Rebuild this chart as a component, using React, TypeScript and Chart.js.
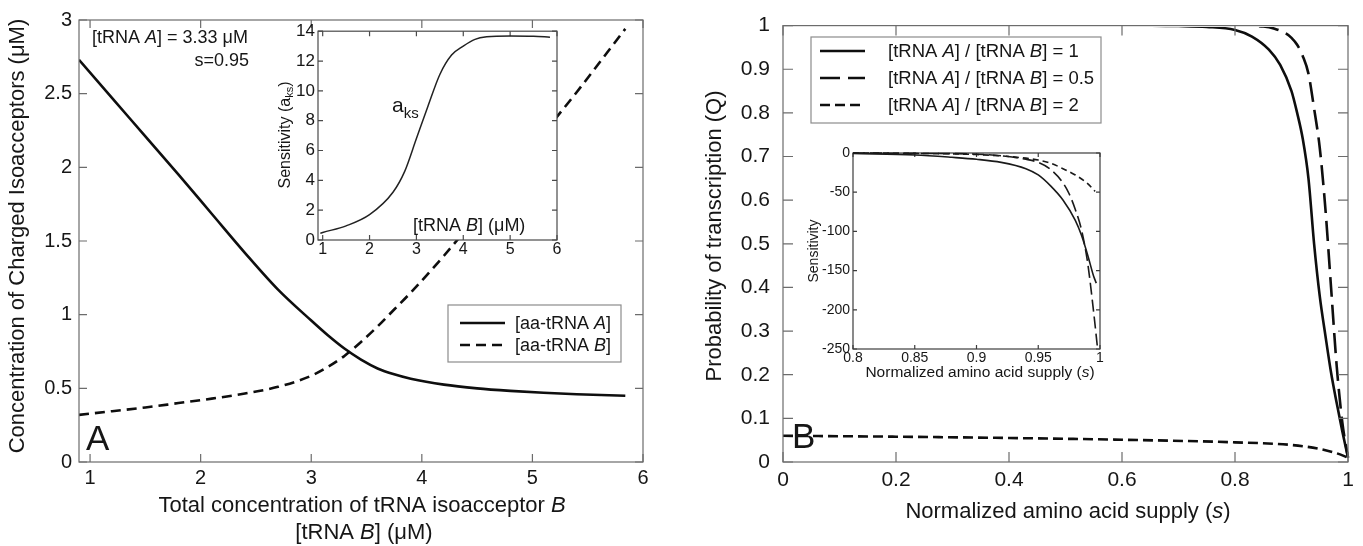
import React, { useEffect, useRef } from "react";
import { Chart, registerables } from "chart.js";

Chart.register(...registerables);

const FAM = '"Liberation Sans", Arial, Helvetica, sans-serif';
const INK = "#161616";
const LINE = "#0e0e0e";

// ---------------- Panel A (main) ----------------
const aTotalB = [0.9, 1.2, 1.5, 1.8, 2.1, 2.4, 2.7, 3.0, 3.15, 3.3, 3.45, 3.6, 3.75, 3.9, 4.2, 4.5, 4.8, 5.1, 5.4, 5.84];
const aChargedA = [2.73, 2.47, 2.21, 1.95, 1.685, 1.42, 1.17, 0.96, 0.86, 0.77, 0.695, 0.635, 0.595, 0.565, 0.525, 0.5, 0.483, 0.47, 0.46, 0.45];
const aChargedB = [0.32, 0.345, 0.37, 0.4, 0.43, 0.465, 0.51, 0.585, 0.645, 0.72, 0.815, 0.92, 1.035, 1.15, 1.4, 1.67, 1.95, 2.23, 2.51, 2.94];
const aXTicks = [1, 2, 3, 4, 5, 6];
const aXTickLabels = ["1", "2", "3", "4", "5", "6"];
const aYTicks = [0, 0.5, 1, 1.5, 2, 2.5, 3];
const aYTickLabels = ["0", "0.5", "1", "1.5", "2", "2.5", "3"];

// ---------------- Panel A (inset) ----------------
const aInsetTotalB = [0.95, 1.0, 1.5, 2.0, 2.5, 2.75, 3.0, 3.25, 3.5, 3.75, 4.0, 4.25, 4.5, 5.0, 5.5, 5.85];
const aInsetSensitivity = [0.45, 0.5, 0.95, 1.7, 3.2, 4.6, 6.8, 9.0, 11.1, 12.4, 13.0, 13.45, 13.62, 13.68, 13.66, 13.6];
const aInsetXTicks = [1, 2, 3, 4, 5, 6];
const aInsetXTickLabels = ["1", "2", "3", "4", "5", "6"];
const aInsetYTicks = [0, 2, 4, 6, 8, 10, 12, 14];
const aInsetYTickLabels = ["0", "2", "4", "6", "8", "10", "12", "14"];

// ---------------- Panel B (main) ----------------
const bSupplyRatio1 = [0, 0.3, 0.6, 0.7, 0.75, 0.8, 0.83, 0.86, 0.88, 0.9, 0.91, 0.92, 0.93, 0.94, 0.95, 0.96, 0.97, 0.98, 0.99, 1.0];
const bQRatio1 = [1, 1, 1, 0.999, 0.997, 0.99, 0.975, 0.945, 0.91, 0.85, 0.8, 0.74, 0.65, 0.5, 0.38, 0.29, 0.205, 0.135, 0.07, 0.01];
const bSupplyRatioHalf = [0, 0.3, 0.6, 0.8, 0.85, 0.87, 0.89, 0.9, 0.91, 0.92, 0.93, 0.94, 0.95, 0.96, 0.97, 0.98, 0.99, 1.0];
const bQRatioHalf = [1, 1, 1, 1, 0.998, 0.993, 0.982, 0.972, 0.956, 0.93, 0.89, 0.81, 0.72, 0.58, 0.4, 0.22, 0.09, 0.01];
const bSupplyRatio2 = [0, 0.2, 0.4, 0.6, 0.8, 0.9, 0.95, 0.98, 1.0];
const bQRatio2 = [0.06, 0.058, 0.055, 0.051, 0.045, 0.039, 0.03, 0.02, 0.01];
const bXTicks = [0, 0.2, 0.4, 0.6, 0.8, 1];
const bXTickLabels = ["0", "0.2", "0.4", "0.6", "0.8", "1"];
const bYTicks = [0, 0.1, 0.2, 0.3, 0.4, 0.5, 0.6, 0.7, 0.8, 0.9, 1];
const bYTickLabels = ["0", "0.1", "0.2", "0.3", "0.4", "0.5", "0.6", "0.7", "0.8", "0.9", "1"];

// ---------------- Panel B (inset) ----------------
const bInsetSupply1 = [0.8, 0.85, 0.88, 0.9, 0.92, 0.94, 0.95, 0.96, 0.97, 0.98, 0.985, 0.99, 0.995, 0.997];
const bInsetSens1 = [-0.5, -2.5, -5.5, -8, -12, -20, -28, -42, -60, -86, -105, -130, -158, -166];
const bInsetSupplyHalf = [0.8, 0.85, 0.9, 0.92, 0.94, 0.95, 0.96, 0.97, 0.975, 0.98, 0.985, 0.99, 0.995, 0.998];
const bInsetSensHalf = [0, -0.5, -1.5, -3.5, -8, -12, -21, -38, -52, -72, -98, -140, -205, -249];
const bInsetSupply2 = [0.8, 0.85, 0.9, 0.93, 0.95, 0.96, 0.97, 0.98, 0.99, 0.996];
const bInsetSens2 = [0, -0.5, -2, -5, -9, -13, -20, -28, -39, -49];
const bInsetXTicks = [0.8, 0.85, 0.9, 0.95, 1];
const bInsetXTickLabels = ["0.8", "0.85", "0.9", "0.95", "1"];
const bInsetYTicks = [-250, -200, -150, -100, -50, 0];
const bInsetYTickLabels = ["-250", "-200", "-150", "-100", "-50", "0"];

// ---------------- styles ----------------
const DASH_A_B = [10, 6];
const DASH_B_HALF = [20, 8];
const DASH_B_TWO = [10, 5];
const DASH_IN_HALF = [12, 5];
const DASH_IN_TWO = [6, 4];

type Seg = { t: string; i?: boolean; s?: number; dy?: number };

function rich(ctx: CanvasRenderingContext2D, segs: Seg[], x: number, y: number, size: number, align: "left" | "center" | "right" = "left") {
  ctx.save();
  ctx.textBaseline = "alphabetic";
  ctx.textAlign = "left";
  ctx.fillStyle = INK;
  const fontOf = (g: Seg) => `${g.i ? "italic " : ""}${g.s ?? size}px ${FAM}`;
  let w = 0;
  for (const g of segs) {
    ctx.font = fontOf(g);
    w += ctx.measureText(g.t).width;
  }
  let cx = align === "left" ? x : align === "center" ? x - w / 2 : x - w;
  for (const g of segs) {
    ctx.font = fontOf(g);
    ctx.fillText(g.t, cx, y + (g.dy ?? 0));
    cx += ctx.measureText(g.t).width;
  }
  ctx.restore();
}

function richV(ctx: CanvasRenderingContext2D, segs: Seg[], cx: number, cy: number, size: number) {
  ctx.save();
  ctx.translate(cx, cy);
  ctx.rotate(-Math.PI / 2);
  rich(ctx, segs, 0, size * 0.35, size, "center");
  ctx.restore();
}

type Row = { y: number; dash: number[]; width: number; segs: Seg[] };
function drawLegend(ctx: CanvasRenderingContext2D, box: { x: number; y: number; w: number; h: number }, rows: Row[], x0: number, x1: number, tx: number, size: number) {
  ctx.save();
  ctx.fillStyle = "#fff";
  ctx.fillRect(box.x, box.y, box.w, box.h);
  ctx.strokeStyle = "#8c8c8c";
  ctx.lineWidth = 1.2;
  ctx.strokeRect(box.x, box.y, box.w, box.h);
  for (const r of rows) {
    ctx.strokeStyle = LINE;
    ctx.lineWidth = r.width;
    ctx.setLineDash(r.dash);
    ctx.beginPath();
    ctx.moveTo(x0, r.y);
    ctx.lineTo(x1, r.y);
    ctx.stroke();
    ctx.setLineDash([]);
    rich(ctx, r.segs, tx, r.y + size * 0.35, size, "left");
  }
  ctx.restore();
}

function xy(xs: number[], ys: number[]) {
  return xs.map((x, i) => ({ x, y: ys[i] }));
}

function axis(min: number, max: number, ticks: number[], labels: string[], size: number, pad: number, fit: { width?: number; height?: number }) {
  return {
    type: "linear",
    min,
    max,
    afterBuildTicks: (s: any) => {
      s.ticks = ticks.map((v) => ({ value: v }));
    },
    afterFit: (s: any) => {
      if (fit.width != null) s.width = fit.width;
      if (fit.height != null) s.height = fit.height;
    },
    grid: { display: false, drawTicks: false },
    border: { display: false },
    ticks: {
      autoSkip: false,
      maxRotation: 0,
      minRotation: 0,
      padding: pad,
      color: INK,
      font: { family: FAM, size },
      callback: (_v: any, i: number) => labels[i],
    },
  };
}

function drawFrame(chart: any, len: number, color: string) {
  const { ctx, chartArea: a } = chart;
  const xs = chart.scales.x;
  const ys = chart.scales.y;
  ctx.save();
  ctx.setLineDash([]);
  ctx.strokeStyle = color;
  ctx.lineWidth = 1.2;
  ctx.strokeRect(a.left, a.top, a.right - a.left, a.bottom - a.top);
  ctx.beginPath();
  for (const t of xs.ticks) {
    const p = xs.getPixelForValue(t.value);
    ctx.moveTo(p, a.bottom);
    ctx.lineTo(p, a.bottom - len);
    ctx.moveTo(p, a.top);
    ctx.lineTo(p, a.top + len);
  }
  for (const t of ys.ticks) {
    const p = ys.getPixelForValue(t.value);
    ctx.moveTo(a.left, p);
    ctx.lineTo(a.left + len, p);
    ctx.moveTo(a.right, p);
    ctx.lineTo(a.right - len, p);
  }
  ctx.stroke();
  ctx.restore();
}

type AxSpec = { min: number; max: number; ticks: number[]; labels: string[]; size: number; pad: number };
type Spec = {
  canvas: HTMLCanvasElement;
  ox: number;
  oy: number;
  w: number;
  h: number;
  area: { l: number; t: number; r: number; b: number };
  x: AxSpec;
  y: AxSpec;
  datasets: any[];
  tick: number;
  frameColor: string;
  white: boolean;
  frameOnTop: boolean;
  decor: (ctx: CanvasRenderingContext2D) => void;
};

function makeChart(s: Spec) {
  const yWidth = s.area.l - s.ox;
  const xHeight = s.oy + s.h - s.area.b;
  const padTop = s.area.t - s.oy;
  const padRight = s.ox + s.w - s.area.r;
  const cfg: any = {
    type: "line",
    data: { datasets: s.datasets },
    options: {
      responsive: false,
      animation: false,
      devicePixelRatio: 1,
      events: [],
      layout: { padding: { top: padTop, right: padRight, left: 0, bottom: 0 } },
      plugins: { legend: { display: false }, tooltip: { enabled: false } },
      scales: {
        x: axis(s.x.min, s.x.max, s.x.ticks, s.x.labels, s.x.size, s.x.pad, { height: xHeight }),
        y: axis(s.y.min, s.y.max, s.y.ticks, s.y.labels, s.y.size, s.y.pad, { width: yWidth }),
      },
    },
    plugins: [
      {
        id: "decor",
        beforeDraw(chart: any) {
          if (s.white) {
            const a = chart.chartArea;
            chart.ctx.save();
            chart.ctx.fillStyle = "#fff";
            chart.ctx.fillRect(a.left, a.top, a.right - a.left, a.bottom - a.top);
            chart.ctx.restore();
          }
        },
        beforeDatasetsDraw(chart: any) {
          if (!s.frameOnTop) drawFrame(chart, s.tick, s.frameColor);
        },
        afterDatasetsDraw(chart: any) {
          if (s.frameOnTop) drawFrame(chart, s.tick, s.frameColor);
        },
        afterDraw(chart: any) {
          const ctx = chart.ctx as CanvasRenderingContext2D;
          ctx.save();
          ctx.translate(-s.ox, -s.oy);
          s.decor(ctx);
          ctx.restore();
        },
      },
    ],
  };
  return new Chart(s.canvas, cfg);
}

function line(label: string, xs: number[], ys: number[], width: number, dash: number[], clip: any, color = LINE) {
  return {
    label,
    data: xy(xs, ys),
    borderColor: color,
    borderWidth: width,
    borderDash: dash,
    pointRadius: 0,
    fill: false,
    cubicInterpolationMode: "monotone",
    clip,
  };
}

const A_POS = { ox: 0, oy: 0, w: 690, h: 546 };
const AI_POS = { ox: 255, oy: 18, w: 325, h: 252 };
const B_POS = { ox: 690, oy: 0, w: 673, h: 546 };
const BI_POS = { ox: 798, oy: 138, w: 322, h: 247 };
const TOP_HIDE = { left: 0, top: -1.4, right: 2, bottom: 0 };

export default function App() {
  const refA = useRef<HTMLCanvasElement>(null);
  const refAI = useRef<HTMLCanvasElement>(null);
  const refB = useRef<HTMLCanvasElement>(null);
  const refBI = useRef<HTMLCanvasElement>(null);

  useEffect(() => {
    const charts: Chart[] = [];
    charts.push(
      makeChart({
        canvas: refA.current!,
        ...A_POS,
        area: { l: 79, t: 20, r: 643, b: 462 },
        x: { min: 0.9, max: 6, ticks: aXTicks, labels: aXTickLabels, size: 20, pad: 4 },
        y: { min: 0, max: 3, ticks: aYTicks, labels: aYTickLabels, size: 20, pad: 7 },
        datasets: [line("[aa-tRNA A]", aTotalB, aChargedA, 2.6, [], 0), line("[aa-tRNA B]", aTotalB, aChargedB, 2.6, DASH_A_B, 0)],
        tick: 8,
        frameColor: "#6c6c6c",
        white: false,
        frameOnTop: true,
        decor: (ctx) => {
          richV(ctx, [{ t: "Concentration of Charged Isoacceptors (μM)" }], 16, 236, 22);
          rich(ctx, [{ t: "Total concentration of tRNA isoacceptor " }, { t: "B", i: true }], 362, 512, 22, "center");
          rich(ctx, [{ t: "[tRNA " }, { t: "B", i: true }, { t: "] (μM)" }], 364, 539, 22, "center");
          rich(ctx, [{ t: "[tRNA " }, { t: "A", i: true }, { t: "] = 3.33 μM" }], 92, 43, 18, "left");
          rich(ctx, [{ t: "s=0.95" }], 249, 66, 18, "right");
          rich(ctx, [{ t: "A" }], 86, 450, 35, "left");
          drawLegend(
            ctx,
            { x: 448, y: 305, w: 173, h: 57 },
            [
              { y: 323, dash: [], width: 2.6, segs: [{ t: "[aa-tRNA " }, { t: "A", i: true }, { t: "]" }] },
              { y: 345, dash: DASH_A_B, width: 2.6, segs: [{ t: "[aa-tRNA " }, { t: "B", i: true }, { t: "]" }] },
            ],
            460,
            505,
            515,
            18
          );
        },
      })
    );
    charts.push(
      makeChart({
        canvas: refAI.current!,
        ...AI_POS,
        area: { l: 318, t: 29, r: 557, b: 240 },
        x: { min: 0.9, max: 6, ticks: aInsetXTicks, labels: aInsetXTickLabels, size: 16, pad: 0 },
        y: { min: 0, max: 14, ticks: aInsetYTicks, labels: aInsetYTickLabels, size: 17, pad: 3 },
        datasets: [line("a_ks", aInsetTotalB, aInsetSensitivity, 1.5, [], 2, "#222")],
        tick: 5,
        frameColor: "#4a4a4a",
        white: true,
        frameOnTop: false,
        decor: (ctx) => {
          richV(ctx, [{ t: "Sensitivity (a" }, { t: "ks", s: 11, dy: 3 }, { t: ")" }], 284, 135, 16);
          rich(ctx, [{ t: "a", s: 21 }, { t: "ks", s: 15, dy: 6 }], 392, 112, 21, "left");
          rich(ctx, [{ t: "[tRNA " }, { t: "B", i: true }, { t: "] (μM)" }], 413, 231, 18, "left");
        },
      })
    );
    charts.push(
      makeChart({
        canvas: refB.current!,
        ...B_POS,
        area: { l: 783, t: 20, r: 1348, b: 462 },
        x: { min: 0, max: 1, ticks: bXTicks, labels: bXTickLabels, size: 21, pad: 6 },
        y: { min: 0, max: 1, ticks: bYTicks, labels: bYTickLabels, size: 21, pad: 13 },
        datasets: [
          line("[tRNA A] / [tRNA B] = 1", bSupplyRatio1, bQRatio1, 2.6, [], TOP_HIDE),
          line("[tRNA A] / [tRNA B] = 0.5", bSupplyRatioHalf, bQRatioHalf, 2.6, DASH_B_HALF, TOP_HIDE),
          line("[tRNA A] / [tRNA B] = 2", bSupplyRatio2, bQRatio2, 2.6, DASH_B_TWO, 0),
        ],
        tick: 10,
        frameColor: "#6c6c6c",
        white: false,
        frameOnTop: true,
        decor: (ctx) => {
          richV(ctx, [{ t: "Probability of transcription (Q)" }], 713, 236, 22);
          rich(ctx, [{ t: "Normalized amino acid supply (" }, { t: "s", i: true }, { t: ")" }], 1068, 518, 22, "center");
          rich(ctx, [{ t: "B" }], 792, 448, 35, "left");
          const ratio = (v: string): Seg[] => [{ t: "[tRNA " }, { t: "A", i: true }, { t: "] / [tRNA " }, { t: "B", i: true }, { t: "] = " + v }];
          drawLegend(
            ctx,
            { x: 811, y: 37, w: 290, h: 86 },
            [
              { y: 51, dash: [], width: 2.6, segs: ratio("1") },
              { y: 78, dash: DASH_B_HALF, width: 2.6, segs: ratio("0.5") },
              { y: 105, dash: DASH_B_TWO, width: 2.6, segs: ratio("2") },
            ],
            820,
            865,
            888,
            18.5
          );
        },
      })
    );
    charts.push(
      makeChart({
        canvas: refBI.current!,
        ...BI_POS,
        area: { l: 853, t: 153, r: 1100, b: 349 },
        x: { min: 0.8, max: 1, ticks: bInsetXTicks, labels: bInsetXTickLabels, size: 14, pad: 1 },
        y: { min: -250, max: 0, ticks: bInsetYTicks, labels: bInsetYTickLabels, size: 14, pad: 3 },
        datasets: [
          line("ratio 1", bInsetSupply1, bInsetSens1, 1.6, [], 3, "#1a1a1a"),
          line("ratio 0.5", bInsetSupplyHalf, bInsetSensHalf, 1.6, DASH_IN_HALF, 3, "#1a1a1a"),
          line("ratio 2", bInsetSupply2, bInsetSens2, 1.6, DASH_IN_TWO, 3, "#1a1a1a"),
        ],
        tick: 4,
        frameColor: "#3c3c3c",
        white: true,
        frameOnTop: false,
        decor: (ctx) => {
          richV(ctx, [{ t: "Sensitivity" }], 813, 251, 14);
          rich(ctx, [{ t: "Normalized amino acid supply (" }, { t: "s", i: true }, { t: ")" }], 980, 377, 15.5, "center");
        },
      })
    );
    return () => charts.forEach((c) => c.destroy());
  }, []);

  const cv = (p: { ox: number; oy: number; w: number; h: number }) => ({
    position: "absolute" as const,
    left: p.ox,
    top: p.oy,
    width: p.w,
    height: p.h,
  });

  return (
    <div style={{ position: "absolute", left: 0, top: 0, width: 1363, height: 546, background: "#fff", overflow: "hidden" }}>
      <canvas ref={refA} width={A_POS.w} height={A_POS.h} style={cv(A_POS)} />
      <canvas ref={refB} width={B_POS.w} height={B_POS.h} style={cv(B_POS)} />
      <canvas ref={refAI} width={AI_POS.w} height={AI_POS.h} style={cv(AI_POS)} />
      <canvas ref={refBI} width={BI_POS.w} height={BI_POS.h} style={cv(BI_POS)} />
    </div>
  );
}
